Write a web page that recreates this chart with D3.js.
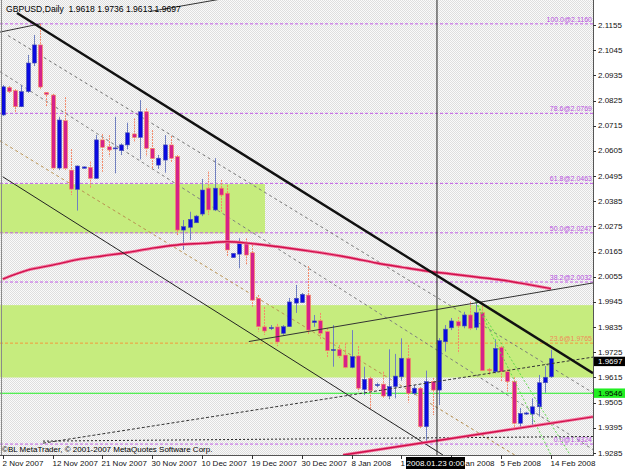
<!DOCTYPE html>
<html><head><meta charset="utf-8">
<script src="https://cdn.jsdelivr.net/npm/d3@7/dist/d3.min.js"></script>
<style>
html,body{margin:0;padding:0;background:#fff;}
svg{display:block;font-family:"Liberation Sans",Arial,sans-serif;}
text{white-space:pre;}
</style></head><body>
<svg id="chart" width="625" height="469"></svg>
<script>
// ---------------- data ----------------
const chartTitle = "GBPUSD,Daily  1.9618 1.9736 1.9613 1.9697";
const copyrightText = "\u00A9BL MetaTrader, \u00A9 2001-2007 MetaQuotes Software Corp.";
const dateLabels = ["2 Nov 2007","12 Nov 2007","21 Nov 2007","30 Nov 2007","10 Dec 2007","19 Dec 2007",
  "30 Dec 2007","8 Jan 2008","17 Jan 2008","28 Jan 2008","5 Feb 2008","14 Feb 2008"];
const barsPerLabel = 8;
const priceTicks = [2.1155,2.1045,2.0935,2.0825,2.0715,2.0605,2.0495,2.0385,2.0275,2.0165,2.0055,
  1.9945,1.9835,1.9725,1.9615,1.9505,1.9395,1.9285];

const open = [2.0762,2.0882,2.0868,2.0798,2.0864,2.0989,2.1068,2.0860,2.0849,2.0530,2.0737,2.0521,2.0437,2.0529,
  2.0533,2.0485,2.0653,2.0623,2.0615,2.0606,2.0631,2.0679,2.0664,2.0776,2.0616,2.0543,2.0565,2.0631,2.0580,2.0259,
  2.0271,2.0291,2.0329,2.0442,2.0347,2.0442,2.0420,2.0139,2.0154,2.0201,2.0160,1.9961,1.9836,1.9829,1.9836,1.9808,
  1.9837,1.9940,1.9942,1.9975,1.9855,1.9863,1.9815,1.9733,1.9738,1.9713,1.9659,1.9709,1.9563,1.9611,1.9580,1.9586,
  1.9534,1.9575,1.9618,1.9699,1.9546,1.9568,1.9400,1.9597,1.9560,1.9771,1.9832,1.9859,1.9840,1.9888,1.9834,1.9898,
  1.9650,1.9640,1.9747,1.9640,1.9597,1.9415,1.9455,1.9455,1.9487,1.9592,1.9618];
const high = [2.0893,2.0888,2.0875,2.0893,2.1024,2.1111,2.1160,2.0862,2.0854,2.0754,2.0840,2.0613,2.0541,2.0537,
  2.0558,2.0674,2.0679,2.0674,2.0754,2.0638,2.0728,2.0747,2.0827,2.0791,2.0696,2.0587,2.0674,2.0670,2.0587,2.0303,
  2.0339,2.0325,2.0482,2.0514,2.0573,2.0478,2.0456,2.0159,2.0223,2.0223,2.0194,1.9975,1.9923,1.9844,1.9849,1.9844,
  1.9962,2.0019,1.9984,2.0102,1.9888,1.9897,1.9831,1.9844,1.9757,1.9764,1.9822,1.9752,1.9662,1.9618,1.9592,1.9640,
  1.9738,1.9718,1.9786,1.9757,1.9582,1.9573,1.9645,1.9613,1.9787,1.9844,1.9875,1.9879,1.9902,1.9946,1.9946,1.9942,
  1.9656,1.9782,1.9752,1.9651,1.9616,1.9482,1.9465,1.9524,1.9626,1.9665,1.9736];
const low = [2.0757,2.0858,2.0771,2.0797,2.0858,2.0976,2.0871,2.0797,2.0521,2.0521,2.0521,2.0412,2.0344,2.0528,
  2.0442,2.0482,2.0514,2.0580,2.0507,2.0587,2.0612,2.0645,2.0568,2.0580,2.0524,2.0526,2.0510,2.0553,2.0237,2.0172,
  2.0216,2.0290,2.0320,2.0325,2.0342,2.0339,2.0143,2.0137,2.0092,2.0106,1.9924,1.9815,1.9801,1.9822,1.9752,1.9801,
  1.9836,1.9897,1.9940,1.9801,1.9836,1.9779,1.9704,1.9662,1.9700,1.9655,1.9655,1.9553,1.9538,1.9476,1.9572,1.9524,
  1.9520,1.9524,1.9601,1.9505,1.9538,1.9394,1.9330,1.9451,1.9495,1.9728,1.9822,1.9721,1.9830,1.9822,1.9822,1.9643,
  1.9626,1.9633,1.9597,1.9553,1.9386,1.9389,1.9451,1.9400,1.9444,1.9548,1.9613];
const close = [2.0885,2.0864,2.0798,2.0864,2.0989,2.1068,2.0884,2.0851,2.0530,2.0740,2.0529,2.0438,2.0539,2.0535,
  2.0485,2.0653,2.0621,2.0609,2.0618,2.0631,2.0684,2.0664,2.0776,2.0616,2.0572,2.0573,2.0631,2.0573,2.0259,2.0274,
  2.0306,2.0320,2.0434,2.0347,2.0442,2.0412,2.0172,2.0157,2.0201,2.0150,1.9953,1.9837,1.9818,1.9833,1.9770,1.9837,
  1.9945,1.9961,1.9978,1.9822,1.9862,1.9808,1.9732,1.9737,1.9709,1.9659,1.9706,1.9568,1.9607,1.9557,1.9584,1.9534,
  1.9575,1.9621,1.9699,1.9546,1.9568,1.9400,1.9597,1.9560,1.9776,1.9826,1.9862,1.9840,1.9888,1.9830,1.9898,1.9645,
  1.9645,1.9742,1.9640,1.9597,1.9415,1.9458,1.9460,1.9487,1.9592,1.9616,1.9697];

// moving average (read every 4 bars)
const maBars = [0,4,8,12,16,20,24,28,32,36,40,44,48,52,56,60,64,68,72,76,80,84,88];
const maValues = [2.0045,2.0084,2.0106,2.0130,2.0146,2.0161,2.0180,2.0194,2.0201,2.0208,2.0200,2.0187,2.0172,
  2.0156,2.0137,2.0115,2.0097,2.0080,2.0067,2.0054,2.0041,2.0023,2.0003];

// fibonacci retracement
const fibLevels = [100.0,78.6,61.8,50.0,38.2,23.6,0.0];
const fibPrices = [2.1160,2.0769,2.0463,2.0247,2.0032,1.9765,1.9324];

// zones [barFrom, barTo, priceLow, priceHigh]
const zoneUpper = [-1, 42.1, 2.0245, 2.0460];
const zoneLower = [-1, 96, 1.9615, 1.9931];

// horizontal line & current price
const hLinePrice = 1.9546;
const lastPrice = 1.9697;
const crossBar = 69.7;
const crossLabel = "2008.01.23 0:00";

// trend lines [[bar, price],[bar, price]]
const lineThick   = [[2.30, 2.1207],[94.74, 1.9634]];
const lineChanLow = [[0.00, 2.0492],[70.67, 1.9276]];
const lineChanA   = [[0.85, 2.1109],[94.74, 1.9548]];
const lineChanB   = [[-0.43, 2.0951],[94.74, 1.9300]];
const lineChanC   = [[-0.43, 2.0649],[82.20, 1.9276]];
const lineTopA    = [[-0.43, 2.1124],[6.0, 2.1160]];
const lineTopB    = [[23.64, 2.1214],[36.0, 2.1273]];
const lineRise    = [[39.5, 1.9772],[94.74, 2.0028]];
const lineRed     = [[54.62, 1.9276],[94.74, 1.9443]];
const lineDashUp  = [[6.47, 1.9328],[94.74, 1.9704]];
const lineDashFlat= [[6.47, 1.9337],[94.74, 1.9357]];
// fan lines from the 29 Jan high
const fanA = [[75.9, 1.9946],[91.08, 1.9276]];
const fanB = [[75.9, 1.9946],[88.0, 1.9276]];

// ---------------- drawing ----------------
const W = 625, H = 469, PR = 593, PB = 455;
const svg = d3.select("#chart");
const x = d3.scaleLinear().domain([0, 88]).range([2.7, 551]);
const y = d3.scaleLinear().domain([1.9285, 2.1155]).range([453, 25]);

const defs = svg.append("defs");
const pat = defs.append("pattern").attr("id","bg").attr("width",2).attr("height",2).attr("patternUnits","userSpaceOnUse");
pat.append("rect").attr("width",2).attr("height",2).attr("fill","#fafafa");
pat.append("rect").attr("x",0).attr("y",0).attr("width",1).attr("height",1).attr("fill","#dedede");
pat.append("rect").attr("x",1).attr("y",1).attr("width",1).attr("height",1).attr("fill","#dedede");
defs.append("clipPath").attr("id","plot").append("rect").attr("x",0).attr("y",0).attr("width",PR).attr("height",PB);

svg.append("rect").attr("width",W).attr("height",H).attr("fill","#ffffff");
svg.append("rect").attr("x",0).attr("y",0).attr("width",PR).attr("height",PB).attr("fill","url(#bg)");

const g = svg.append("g").attr("clip-path","url(#plot)");

// zones
[zoneUpper, zoneLower].forEach(z => {
  g.append("rect").attr("x", x(z[0])).attr("y", y(z[3]))
    .attr("width", x(z[1]) - x(z[0])).attr("height", y(z[2]) - y(z[3]))
    .attr("fill", "#c6ec7e");
});

// fib lines
fibLevels.forEach((lv, i) => {
  const c = lv === 23.6 ? "#f39a3c" : "#c25ee6";
  g.append("line").attr("x1",0).attr("x2",PR).attr("y1",y(fibPrices[i])).attr("y2",y(fibPrices[i]))
    .attr("stroke",c).attr("stroke-width",1).attr("stroke-dasharray","3,2");
});

// green horizontal line
g.append("line").attr("x1",0).attr("x2",PR).attr("y1",y(hLinePrice)).attr("y2",y(hLinePrice))
  .attr("stroke","#22ee22").attr("stroke-width",1.2);

function tl(pts, color, w, dash) {
  g.append("line").attr("x1", x(pts[0][0])).attr("y1", y(pts[0][1]))
    .attr("x2", x(pts[1][0])).attr("y2", y(pts[1][1]))
    .attr("stroke", color).attr("stroke-width", w).attr("stroke-dasharray", dash || null);
}
// channel dashed lines (behind candles)
tl(lineChanA, "#7a7a7a", 1, "3,3");
tl(lineChanB, "#7f7f7f", 1, "3,3");
tl(lineChanC, "#b89050", 1, "3,3");

// candles
const idx = d3.range(open.length);
const cg = g.append("g");
idx.forEach(i => {
  const bull = close[i] >= open[i];
  const cx = Math.round(x(i)) + 0.5;
  cg.append("line").attr("x1",cx).attr("x2",cx).attr("y1",y(high[i])).attr("y2",y(low[i]))
    .attr("stroke", bull ? "#7080c0" : "#f58a6a").attr("stroke-width",1)
    .attr("stroke-dasharray", bull ? null : "2,1");
  const top = y(Math.max(open[i], close[i])), bot = y(Math.min(open[i], close[i]));
  cg.append("rect").attr("x", cx - 2).attr("y", top).attr("width", 4).attr("height", Math.max(1, bot - top))
    .attr("fill", bull ? "#0a0ae0" : "#d6218a")
    .attr("stroke", bull ? "#4b55b0" : "#f8905a").attr("stroke-width", 0.6);
});

// moving average
const maLine = d3.line().x((d,i)=>x(maBars[i])).y(d=>y(d)).curve(d3.curveMonotoneX);
g.append("path").attr("d", maLine(maValues)).attr("fill","none").attr("stroke","#f27aa0").attr("stroke-width",3);
g.append("path").attr("d", maLine(maValues)).attr("fill","none").attr("stroke","#d0104c").attr("stroke-width",1.4);

// trend lines
tl(fanA, "#5fd84a", 1, "2,2");
tl(fanB, "#5fd84a", 1, "2,2");
tl(lineDashFlat, "#222", 1, "2,2");
tl(lineDashUp, "#333", 1, "3,2");
tl(lineRise, "#333", 1);
tl(lineChanLow, "#222", 1);
tl(lineTopA, "#333", 1);
tl(lineTopB, "#333", 1);
tl(lineRed, "#f27aa0", 3);
tl(lineRed, "#d0104c", 1.4);
tl(lineThick, "#111", 2.4);

// vertical crosshair line
g.append("line").attr("x1", x(crossBar)).attr("x2", x(crossBar)).attr("y1",0).attr("y2",PB)
  .attr("stroke","#222").attr("stroke-width",1);

// fib labels
fibLevels.forEach((lv, i) => {
  const c = lv === 23.6 ? "#f08a5a" : "#b84fe0";
  svg.append("text").attr("x", 592).attr("y", y(fibPrices[i]) - 2).attr("text-anchor","end")
    .attr("font-size", 7).attr("fill", c).text(lv.toFixed(1) + "@" + fibPrices[i].toFixed(4));
});

// frame & axes
svg.append("line").attr("x1",1.5).attr("x2",1.5).attr("y1",0).attr("y2",PB).attr("stroke","#8a8a8a");
svg.append("line").attr("x1",PR+0.5).attr("x2",PR+0.5).attr("y1",0).attr("y2",PB+1).attr("stroke","#555");
svg.append("line").attr("x1",0).attr("x2",PR+1).attr("y1",PB+0.5).attr("y2",PB+0.5).attr("stroke","#555");

priceTicks.forEach(p => {
  svg.append("line").attr("x1",PR).attr("x2",PR+3).attr("y1",Math.round(y(p))+0.5).attr("y2",Math.round(y(p))+0.5).attr("stroke","#333");
  svg.append("text").attr("x",598).attr("y",y(p)+2.5).attr("font-size",8).attr("fill","#111").text(p.toFixed(4));
});

// price boxes
function priceBox(p, bg, fg, dy, hgt) {
  const yy = y(p);
  svg.append("rect").attr("x",594).attr("y",yy+dy).attr("width",31).attr("height",hgt).attr("fill",bg);
  svg.append("text").attr("x",598).attr("y",yy+dy+hgt-2.2).attr("font-size",8).attr("fill",fg).text(p.toFixed(4));
}
priceBox(hLinePrice, "#22ee22", "#000", -4.8, 9.4);
priceBox(lastPrice, "#000", "#fff", -2, 9.4);

// crosshair date box
const cbx = x(crossBar);
const boxL = cbx - 31, boxR = cbx + 28;

dateLabels.forEach((d, i) => {
  const bx = Math.round(x(i * barsPerLabel)) + 0.5;
  svg.append("line").attr("x1",bx).attr("x2",bx).attr("y1",PB).attr("y2",PB+4).attr("stroke","#333");
  const t = svg.append("text").attr("x",bx-1).attr("y",466).attr("font-size",8).attr("fill","#111").text(d);
  const node = t.node();
  const n = d.length;
  const ext = [];
  for (let k = 0; k < n; k++) { const e = node.getExtentOfChar(k); ext.push([e.x, e.x + e.width]); }
  if (ext[n-1][1] > boxL && bx - 1 < boxR) {
    // the part hidden by the crosshair label is not drawn
    let left = "", k = 0;
    while (k < n && ext[k][1] <= boxL) { left += d[k]; k++; }
    let r = n;
    for (let j = n - 1; j >= 0; j--) { if (ext[j][0] >= boxR) r = j; else break; }
    t.remove();
    if (left.trim()) svg.append("text").attr("x",bx-1).attr("y",466).attr("font-size",8).attr("fill","#111").text(left);
    if (r < n) svg.append("text").attr("x",ext[r][0]).attr("y",466).attr("font-size",8).attr("fill","#111").text(d.slice(r));
  }
});

svg.append("rect").attr("x", boxL).attr("y", 457).attr("width", boxR - boxL).attr("height", 12).attr("fill","#000");
svg.append("text").attr("x", (boxL+boxR)/2).attr("y", 466).attr("text-anchor","middle").attr("font-size",8).attr("fill","#fff").text(crossLabel);

// texts
svg.append("text").attr("x",6).attr("y",12).attr("font-size",8.6).attr("fill","#000").text(chartTitle);
svg.append("text").attr("x",2).attr("y",452).attr("font-size",8).attr("fill","#000").text(copyrightText);
</script>
</body></html>
